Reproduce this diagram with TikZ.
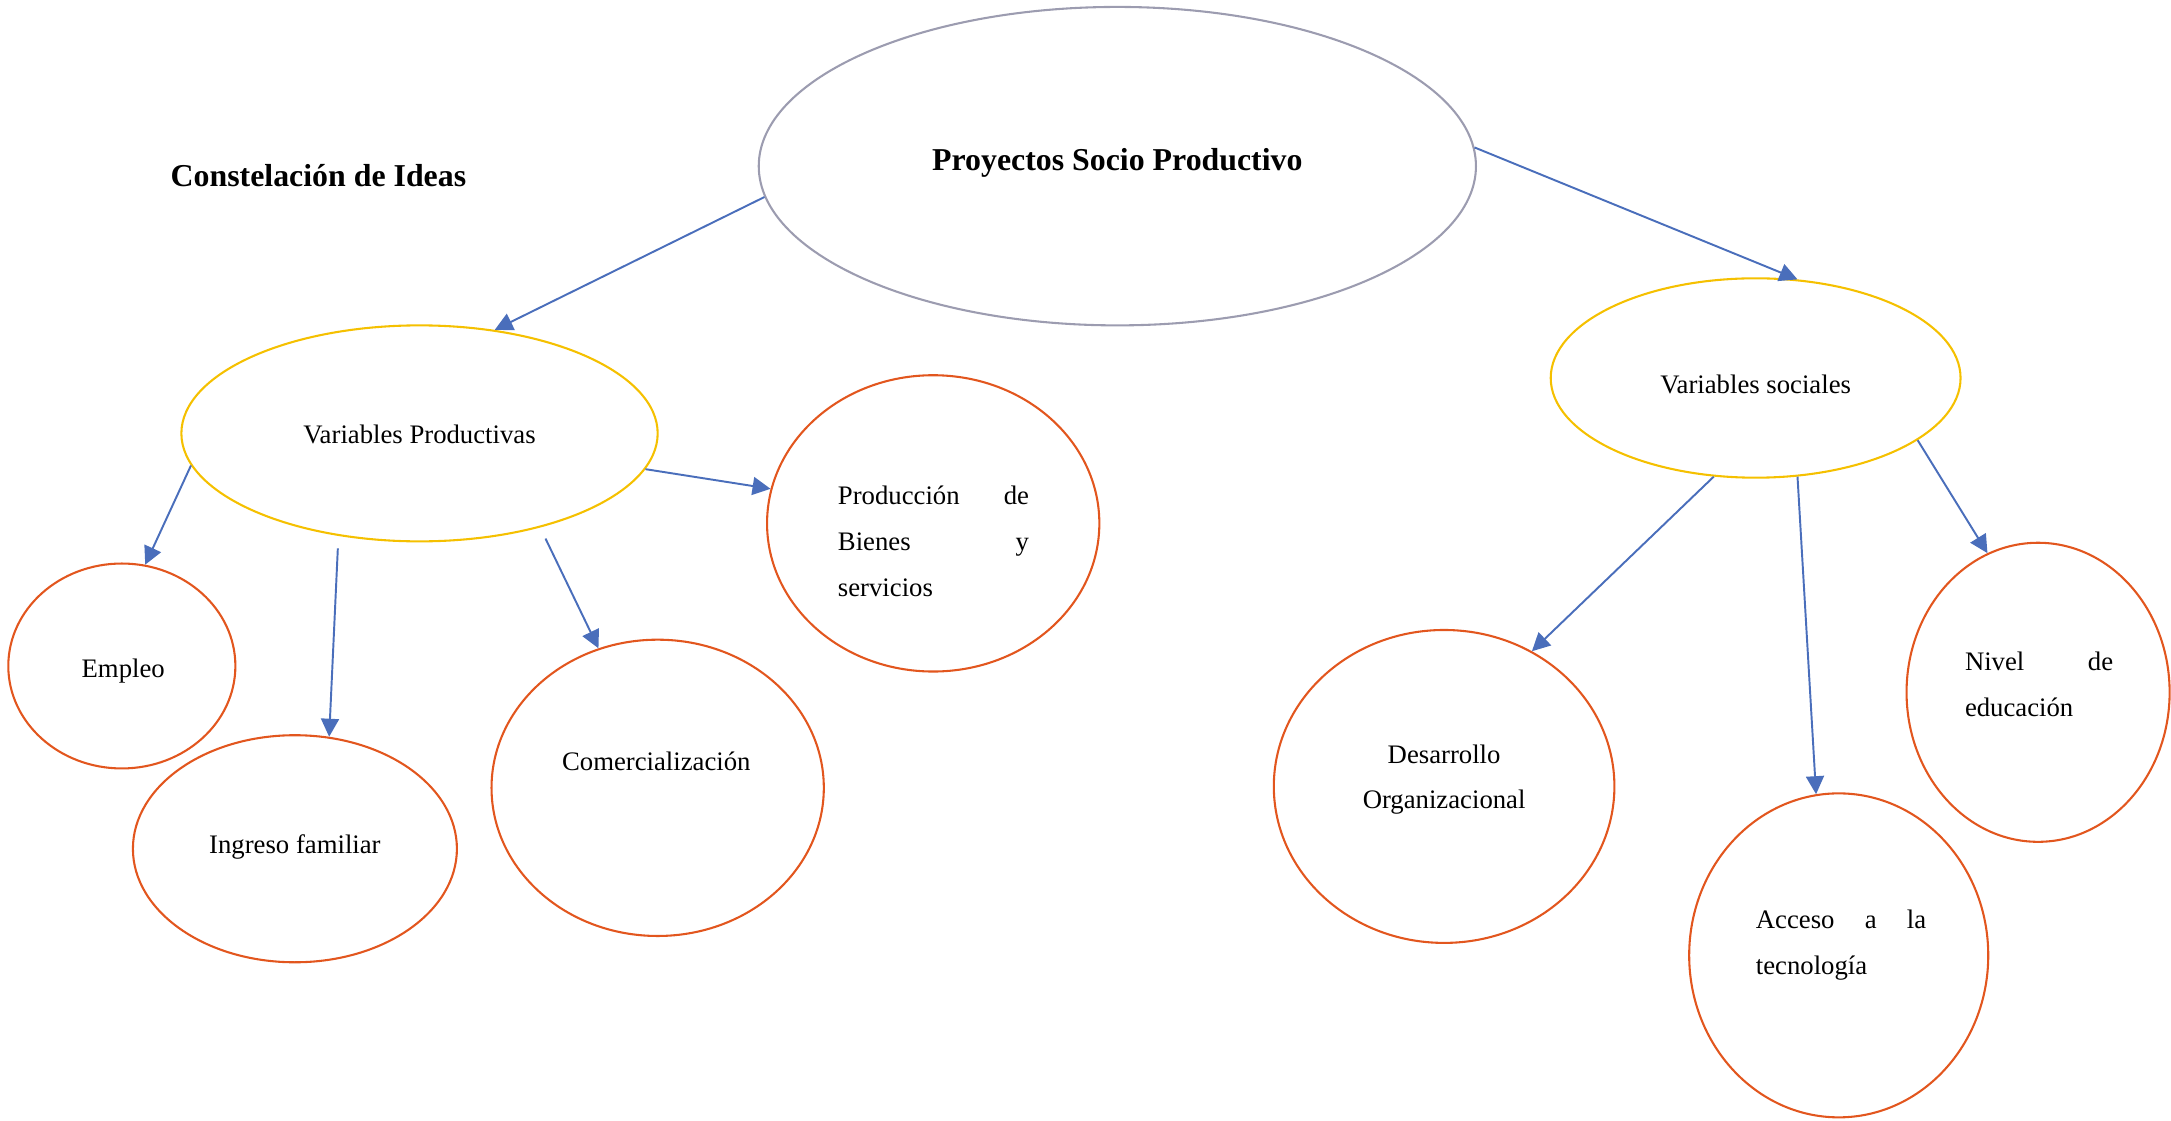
\documentclass[tikz,border=0pt]{standalone}
\usepackage{fontspec}
\setmainfont{Liberation Serif}
\usetikzlibrary{shapes.geometric,arrows.meta}
\definecolor{arrowblue}{HTML}{4A6EBB}
\definecolor{ringorange}{HTML}{E2561E}
\definecolor{ringyellow}{HTML}{F5C000}
\definecolor{ringgray}{HTML}{9C9CB0}
\tikzset{
  oval/.style={draw, ellipse, inner sep=0pt, line width=1.5pt},
  topoval/.style={oval, draw=ringgray},
  midoval/.style={oval, draw=ringyellow},
  leafoval/.style={oval, draw=ringorange},
  conn/.style={draw=arrowblue, line width=1.4pt, -{Triangle[length=13pt,width=13pt]}},
  txt/.style={font=\fontsize{19.3}{33}\selectfont, inner sep=0pt, align=left},
  btxt/.style={font=\fontsize{23}{28}\selectfont\bfseries, inner sep=0pt},
}
\begin{document}
\begin{tikzpicture}[x=1pt,y=-1pt]
\useasboundingbox (0,0) rectangle (1568,809);
% ovals
\node[topoval, minimum width=518pt, minimum height=230pt] (T) at (807,120) {};
\node[midoval, minimum width=344pt, minimum height=156pt] (VP) at (303,313) {};
\node[midoval, minimum width=296pt, minimum height=144pt] (VS) at (1268,273) {};
\node[leafoval, minimum width=164pt, minimum height=148pt] (E) at (88,481) {};
\node[leafoval, minimum width=234pt, minimum height=164pt] (IF) at (213,613) {};
\node[leafoval, minimum width=240pt, minimum height=214pt] (C) at (475,569) {};
\node[leafoval, minimum width=240pt, minimum height=214pt] (PB) at (674,378) {};
\node[leafoval, minimum width=246pt, minimum height=226pt] (DO) at (1043,568) {};
\node[leafoval, minimum width=216pt, minimum height=234pt] (AT) at (1328,690) {};
\node[leafoval, minimum width=190pt, minimum height=216pt] (NE) at (1472,500) {};
% free starts of two connectors (below the oval)
\coordinate (sIF) at (244,396);
\coordinate (sC) at (394,389);
% texts
\node[btxt] (ttl) at (230,127) {Constelación de Ideas};
\node[btxt] (tT) at (807,118) {Proyectos Socio Productivo};
\node[txt] (tVP) at (303,314) {Variables Productivas};
\node[txt] (tVS) at (1268,278) {Variables sociales};
\node[txt] (tE) at (89,485) {Empleo};
\node[txt] (tIF) at (213,612) {Ingreso familiar};
\node[txt] (tC) at (474,550) {Comercialización};
\node[txt, anchor=north west] (tPB) at (605,351) {\hbox to 138pt{Producción\hfill de}\\\hbox to 138pt{Bienes\hfill y}\\servicios};
\node[txt, align=center] (tDO) at (1043,563) {Desarrollo\\Organizacional};
\node[txt, anchor=north west] (tAT) at (1268,657) {\hbox to 123pt{Acceso\hfill a\hfill la}\\tecnología};
\node[txt, anchor=north west] (tNE) at (1419,471) {\hbox to 107pt{Nivel\hfill de}\\educación};
% connectors
\draw[conn] (T.185.6) -- (VP.54.6);
\draw[conn] (T.3.1) -- (VS.67.4);
\draw[conn] (VP.188.9) -- (E.77.2);
\draw[conn] (sIF) -- (IF.73.7);
\draw[conn] (sC) -- (C.113.1);
\draw[conn] (VP.351.4) -- (PB.168.7);
\draw[conn] (VS.247.9) -- (DO.57.6);
\draw[conn] (VS.293.5) -- (AT.98.7);
\draw[conn] (VS.339.7) -- (NE.110.3);
\end{tikzpicture}
\end{document}
